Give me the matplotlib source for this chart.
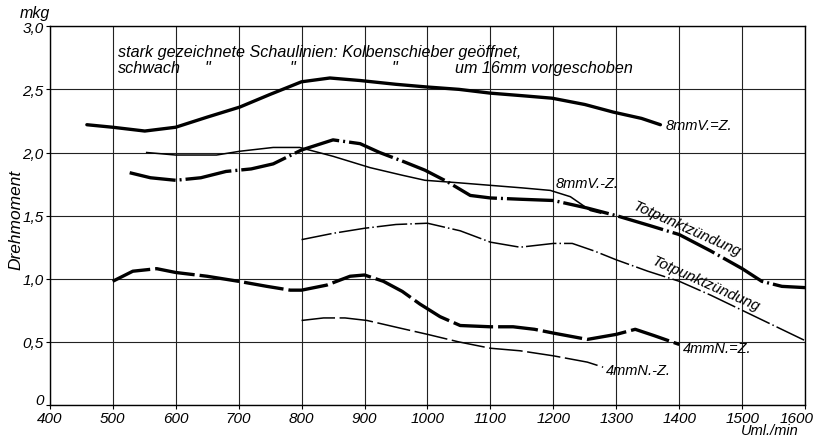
import numpy as np
import matplotlib
matplotlib.use("Agg")
import matplotlib.pyplot as plt
import matplotlib.transforms as mtransforms

plt.rcParams['font.family'] = ['Liberation Sans Narrow', 'Liberation Sans', 'DejaVu Sans']
plt.rcParams['font.style'] = 'italic'

# 8 mm V.-Z., Kolbenschieber geoeffnet (stark)
rpm_8v_stark = [459, 500, 551, 600, 650, 702, 750, 800, 845, 893, 950, 996, 1050,
                1100, 1150, 1198, 1250, 1295, 1340, 1370]
dm_8v_stark = [2.22, 2.20, 2.17, 2.20, 2.28, 2.36, 2.46, 2.56, 2.59, 2.57, 2.54, 2.52,
               2.50, 2.47, 2.45, 2.43, 2.38, 2.32, 2.27, 2.22]

# 8 mm V.-Z., vorgeschoben (schwach)
rpm_8v_schwach = [554, 600, 665, 702, 755, 797, 850, 909, 960, 996, 1050, 1100, 1150,
                  1195, 1227, 1259, 1275]
dm_8v_schwach = [2.0, 1.98, 1.98, 2.01, 2.04, 2.04, 1.97, 1.88, 1.82, 1.78, 1.76, 1.74,
                 1.72, 1.70, 1.65, 1.54, 1.52]

# Totpunktzuendung (stark)
rpm_tp_stark = [527, 560, 600, 640, 680, 720, 755, 800, 850, 893, 924, 961, 996, 1031,
                1068, 1100, 1147, 1200, 1254, 1300, 1354, 1400, 1450, 1500, 1531, 1563, 1600]
dm_tp_stark = [1.84, 1.80, 1.78, 1.80, 1.85, 1.87, 1.91, 2.02, 2.10, 2.07, 2.0, 1.93,
               1.86, 1.77, 1.66, 1.64, 1.63, 1.62, 1.56, 1.50, 1.42, 1.35, 1.22, 1.08,
               0.98, 0.94, 0.93]

# Totpunktzuendung (schwach)
rpm_tp_schwach = [800, 850, 900, 950, 1000, 1052, 1100, 1147, 1200, 1230, 1265, 1300,
                  1350, 1400, 1450, 1500, 1550, 1600]
dm_tp_schwach = [1.31, 1.36, 1.40, 1.43, 1.44, 1.38, 1.29, 1.25, 1.28, 1.28, 1.22, 1.15,
                 1.06, 0.98, 0.87, 0.75, 0.63, 0.51]

# 4 mm N.-Z. (stark)
rpm_4n_stark = [500, 532, 570, 600, 650, 700, 745, 782, 800, 840, 877, 900, 930, 960,
                988, 1020, 1052, 1100, 1136, 1170, 1200, 1254, 1300, 1330, 1360, 1400]
dm_4n_stark = [0.98, 1.06, 1.08, 1.05, 1.02, 0.98, 0.94, 0.91, 0.91, 0.95, 1.02, 1.03,
               0.98, 0.90, 0.80, 0.70, 0.63, 0.62, 0.62, 0.60, 0.57, 0.52, 0.56, 0.60,
               0.55, 0.48]

# 4 mm N.-Z. (schwach)
rpm_4n_schwach = [800, 835, 869, 904, 956, 1000, 1050, 1100, 1147, 1200, 1254, 1279]
dm_4n_schwach = [0.67, 0.69, 0.69, 0.67, 0.61, 0.56, 0.50, 0.45, 0.43, 0.39, 0.34, 0.30]

xticks = [400, 500, 600, 700, 800, 900, 1000, 1100, 1200, 1300, 1400, 1500, 1600]
yticks = [0, 0.5, 1.0, 1.5, 2.0, 2.5, 3.0]
ylabels = ['0', '0,5', '1,0', '1,5', '2,0', '2,5', '3,0']

fig = plt.figure(figsize=(8.15, 4.39), dpi=100)
ax = fig.add_axes([0.061, 0.075, 0.927, 0.863])

dashdot = (0, (14, 1.2, 0.6, 1.2))
dashed = (0, (12, 1.5))

ax.plot(rpm_8v_stark, dm_8v_stark, color='black', lw=2.4, solid_capstyle='round')
ax.plot(rpm_8v_schwach, dm_8v_schwach, color='black', lw=1.1)
ax.plot(rpm_tp_stark, dm_tp_stark, color='black', lw=2.4, linestyle=dashdot)
ax.plot(rpm_tp_schwach, dm_tp_schwach, color='black', lw=1.1, linestyle=(0, (20, 2, 1, 2)))
ax.plot(rpm_4n_stark, dm_4n_stark, color='black', lw=2.4, linestyle=dashed)
ax.plot(rpm_4n_schwach, dm_4n_schwach, color='black', lw=1.1, linestyle=(0, (22, 3)))

ax.set_xlim(400, 1600)
ax.set_ylim(0, 3.0)
ax.set_xticks(xticks)
ax.set_xticklabels([str(t) for t in xticks], fontsize=11)
ax.set_yticks(yticks)
ax.set_yticklabels(ylabels, fontsize=11)
ax.tick_params(length=3, width=0.8, pad=1.5)
ax.grid(True, color='#222222', lw=0.8)
for s in ax.spines.values():
    s.set_color('black')
    s.set_linewidth(1.0)
# pull the last x label a little inside the figure, lift the "0" label
last = ax.get_xticklabels()[-1]
last.set_transform(last.get_transform() +
                   mtransforms.ScaledTranslation(-6 / 72, 0, fig.dpi_scale_trans))
zero = ax.get_yticklabels()[0]
zero.set_transform(zero.get_transform() +
                   mtransforms.ScaledTranslation(0, 5 / 72, fig.dpi_scale_trans))

fs = 10.5
ax.text(1378, 2.22, '8mmV.=Z.', fontsize=fs, va='center', ha='left')
ax.text(1203, 1.76, '8mmV.-Z.', fontsize=fs, va='center', ha='left')
ax.text(1412, 1.40, 'Totpunktzündung', fontsize=11, va='center', ha='center',
        rotation=-24, rotation_mode='anchor')
ax.text(1442, 0.96, 'Totpunktzündung', fontsize=11, va='center', ha='center',
        rotation=-24, rotation_mode='anchor')
ax.text(1406, 0.45, '4mmN.=Z.', fontsize=fs, va='center', ha='left')
ax.text(1284, 0.28, '4mmN.-Z.', fontsize=fs, va='center', ha='left')

hfs = 11.6
ax.text(508, 2.80, 'stark gezeichnete Schaulinien: Kolbenschieber geöffnet,',
        fontsize=hfs, va='center', ha='left')
ax.text(508, 2.67, 'schwach', fontsize=hfs, va='center', ha='left')
for q in [650, 786, 948]:
    ax.text(q, 2.67, '"', fontsize=hfs, va='center', ha='center')
ax.text(1044, 2.67, 'um 16mm vorgeschoben', fontsize=hfs, va='center', ha='left')

fig.text(0.02, 0.5, 'Drehmoment', rotation=90, fontsize=12.5, va='center', ha='center')
fig.text(0.043, 0.97, 'mkg', fontsize=11.5, va='center', ha='center')
fig.text(0.945, 0.018, 'Uml./min', fontsize=10.5, va='center', ha='center')

plt.savefig('out.png', dpi=100)
